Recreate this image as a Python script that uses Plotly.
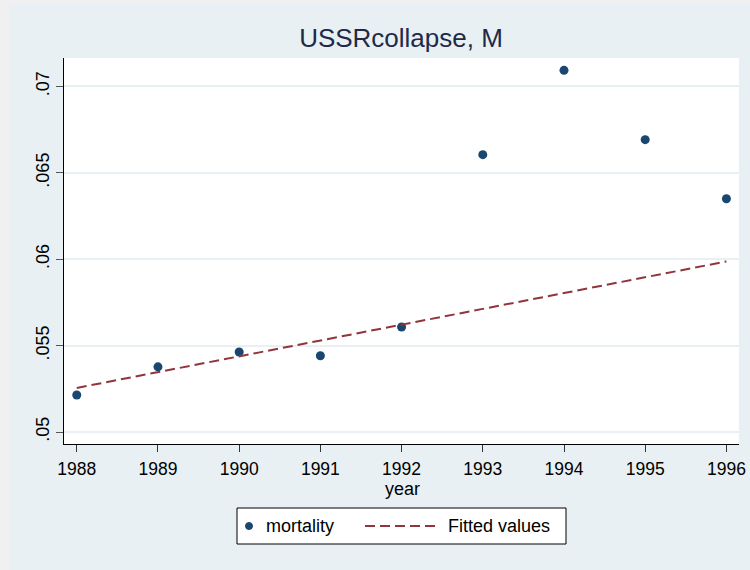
import plotly.graph_objects as go

# ---- data ----
years = [1988, 1989, 1990, 1991, 1992, 1993, 1994, 1995, 1996]
mortality = [0.05214, 0.05377, 0.05463, 0.05441, 0.05608, 0.06605, 0.07093, 0.06692, 0.06350]
fit_years = [1988, 1996]
fitted_values = [0.05255, 0.05987]

x_ticks = [1988, 1989, 1990, 1991, 1992, 1993, 1994, 1995, 1996]
y_ticks = [0.05, 0.055, 0.06, 0.065, 0.07]
y_tick_labels = [".05", ".055", ".06", ".065", ".07"]

title_text = "USSRcollapse, M"
x_title = "year"
legend_labels = ["mortality", "Fitted values"]

# ---- styling ----
W, H = 750, 570
ML, MR, MT, MB = 64, 11, 58, 126
PW, PH = W - ML - MR, H - MT - MB
NAVY = "#1A476F"
MAROON = "#90353B"
BG = "#E8F0F3"
FONT = "Arial, Liberation Sans, sans-serif"


def px(xp):
    return (xp - ML) / PW


def py(yp):
    return (H - MB - yp) / PH


fig = go.Figure()
fig.add_trace(go.Scatter(
    x=years, y=mortality, mode="markers", name=legend_labels[0],
    marker=dict(color=NAVY, size=9), showlegend=False,
))
fig.add_trace(go.Scatter(
    x=fit_years, y=fitted_values, mode="lines", name=legend_labels[1],
    line=dict(color=MAROON, width=2, dash="10px,5px"), showlegend=False,
))

shapes = []
# outer grey strips (screenshot frame)
shapes.append(dict(type="rect", xref="paper", yref="paper", x0=px(0), x1=px(9),
                   y0=py(H), y1=py(0), fillcolor="#F0F0F0", line=dict(width=0), layer="below"))
shapes.append(dict(type="rect", xref="paper", yref="paper", x0=px(0), x1=px(W),
                   y0=py(3), y1=py(0), fillcolor="#F0F0F0", line=dict(width=0), layer="below"))
# legend box
shapes.append(dict(type="rect", xref="paper", yref="paper", x0=px(237), x1=px(566),
                   y0=py(544), y1=py(508), fillcolor="white", line=dict(color="black", width=1)))
# legend marker
shapes.append(dict(type="circle", xref="paper", yref="paper", x0=px(245.5), x1=px(252.5),
                   y0=py(529.5), y1=py(522.5), fillcolor=NAVY, line=dict(color=NAVY, width=1)))
# legend dashed line
shapes.append(dict(type="line", xref="paper", yref="paper", x0=px(365), x1=px(437),
                   y0=py(526), y1=py(526), line=dict(color=MAROON, width=2, dash="10px,5px")))

annotations = [
    dict(text=legend_labels[0], xref="paper", yref="paper", x=px(264), y=py(526),
         xanchor="left", yanchor="middle", showarrow=False, font=dict(size=18, color="black", family=FONT)),
    dict(text=legend_labels[1], xref="paper", yref="paper", x=px(446), y=py(526),
         xanchor="left", yanchor="middle", showarrow=False, font=dict(size=18, color="black", family=FONT)),
    dict(text=x_title, xref="paper", yref="paper", x=px(402), y=py(489),
         xanchor="center", yanchor="middle", showarrow=False, font=dict(size=18, color="black", family=FONT)),
]

fig.update_layout(
    width=W, height=H,
    margin=dict(l=ML, r=MR, t=MT, b=MB, pad=0, autoexpand=False),
    paper_bgcolor=BG, plot_bgcolor="white",
    font=dict(family=FONT, color="black", size=17),
    title=dict(text=title_text, x=px(401), xref="paper", xanchor="center",
               y=1 - 38 / H, yref="container", yanchor="middle",
               font=dict(size=26, color="#1f2a48", family=FONT)),
    shapes=shapes, annotations=annotations,
    showlegend=False,
)

fig.update_xaxes(
    range=[1987.843, 1996.155], tickvals=x_ticks, ticktext=[str(v) for v in x_ticks],
    showgrid=False, zeroline=False, showline=True, linecolor="black", linewidth=1,
    ticks="outside", ticklen=7, tickwidth=1, tickcolor="#333333", automargin=False,
    tickfont=dict(size=17.5, color="black", family=FONT), ticklabelstandoff=2,
)
fig.update_yaxes(
    range=[0.049306, 0.071644], tickvals=y_ticks, ticktext=y_tick_labels,
    tickangle=-90, showgrid=True, gridcolor=BG, gridwidth=1.5, zeroline=False,
    showline=True, linecolor="black", linewidth=1, automargin=False,
    ticks="outside", ticklen=7, tickwidth=1, tickcolor="#555555",
    tickfont=dict(size=18, color="black", family=FONT),
)

fig.write_html(
    "out.html",
    config={"displayModeBar": False},
    post_script="document.body.style.margin='0';document.body.style.background='" + BG + "';",
)
